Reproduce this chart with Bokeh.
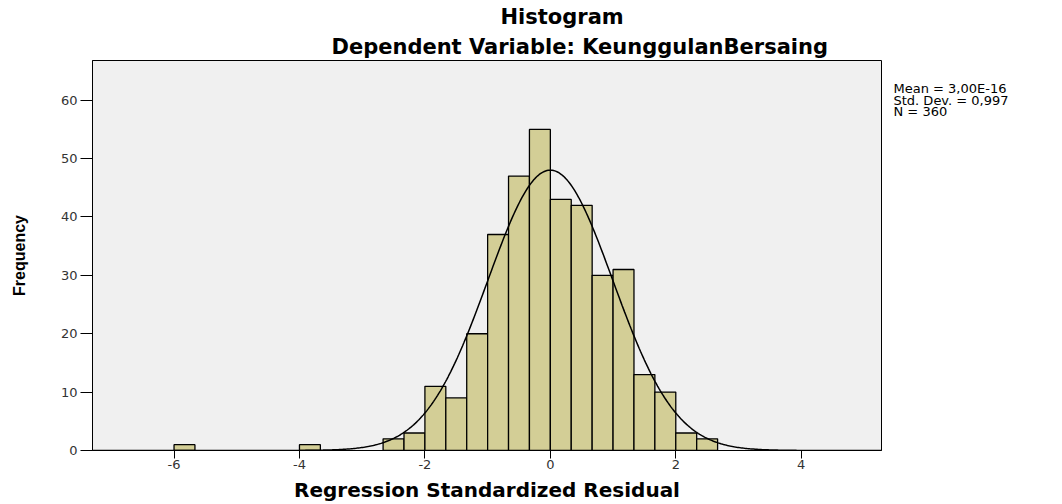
import numpy as np
from bokeh.plotting import figure
from bokeh.layouts import row
from bokeh.models import FixedTicker, Range1d, Title
from bokeh.core.properties import value
from bokeh.embed import file_html
from bokeh.resources import INLINE

# ---- data ----
bin_width = 1.0 / 3.0
bin_left = [-6.0, -4.0] + [k / 3.0 for k in range(-8, 8)]
counts = [1, 1, 2, 3, 11, 9, 20, 37, 47, 55, 43, 42, 30, 31, 13, 10, 3, 2]
mean_val = 3.00e-16
std_val = 0.997
n_val = 360
x_ticks = [-6, -4, -2, 0, 2, 4]
x_tick_labels = ["-6", "-4", "-2", "0", "2", "4"]
y_ticks = [0, 10, 20, 30, 40, 50, 60]
stats_lines = ["Mean = 3,00E-16", "Std. Dev. = 0,997", "N = 360"]

XMIN, XMAX = -7.30, 5.28
YMAX = 66.8
W_MAIN, W_SIDE, H = 890, 172, 504
B_TOP, B_BOTTOM = 60, 53

p = figure(width=W_MAIN, height=H, output_backend="svg", toolbar_location=None,
           x_range=Range1d(XMIN, XMAX), y_range=Range1d(0, YMAX),
           min_border_left=92, min_border_right=9, min_border_top=B_TOP, min_border_bottom=B_BOTTOM)

p.background_fill_color = "#f0f0f0"
p.border_fill_color = "white"
p.outline_line_color = "black"
p.outline_line_width = 1
p.grid.visible = False

left = np.array(bin_left)
p.quad(left=left, right=left + bin_width, bottom=0, top=counts,
       fill_color="#d3ce96", line_color="black", line_width=1.3)

xs = np.linspace(XMIN, XMAX, 600)
ys = n_val * bin_width / (std_val * np.sqrt(2 * np.pi)) * np.exp(-((xs - mean_val) ** 2) / (2 * std_val ** 2))
p.line(xs, ys, line_color="black", line_width=1.5)

# axes
p.xaxis.ticker = FixedTicker(ticks=x_ticks)
p.xaxis.major_label_overrides = {t: s for t, s in zip(x_ticks, x_tick_labels)}
p.yaxis.ticker = FixedTicker(ticks=y_ticks)
for ax in (p.xaxis[0], p.yaxis[0]):
    ax.minor_tick_line_color = None
    ax.major_tick_in = 0
    ax.axis_line_color = "black"
    ax.major_tick_line_color = "black"
    ax.major_label_text_font = "DejaVu Sans"
    ax.major_label_text_font_size = "13px"
    ax.major_label_text_color = "#333333"
    ax.axis_label_text_font_style = "bold"
    ax.axis_label_text_color = "black"

p.xaxis.major_tick_out = 8
p.xaxis.major_label_standoff = 1
p.xaxis.axis_label = "Regression Standardized Residual"
p.xaxis.axis_label_text_font = "DejaVu Sans"
p.xaxis.axis_label_text_font_size = "20px"
p.xaxis.axis_label_standoff = 6

p.yaxis.major_tick_out = 12
p.yaxis.major_label_standoff = 3
p.yaxis.axis_label = "Frequency"
p.yaxis.axis_label_text_font = "Liberation Sans"
p.yaxis.axis_label_text_font_size = "16px"
p.yaxis.axis_label_standoff = 30

# titles (first added is closest to the plot)
p.add_layout(Title(text="Dependent Variable: KeunggulanBersaing", align="left", offset=239,
                   text_font="DejaVu Sans", text_font_style="bold", text_font_size="21px",
                   text_color="black", standoff=4), "above")
p.add_layout(Title(text="Histogram", align="left", offset=408,
                   text_font="DejaVu Sans", text_font_style="bold", text_font_size="21px",
                   text_color="black", standoff=4), "above")

# side panel with the summary statistics (its frame is aligned with the main frame;
# its y range is set so that y = H - screen_y)
s = figure(width=W_SIDE, height=H, output_backend="svg", toolbar_location=None,
           x_range=Range1d(0, W_SIDE), y_range=Range1d(B_BOTTOM, H - B_TOP),
           x_axis_type=None, y_axis_type=None, min_border=0)
s.outline_line_color = None
s.background_fill_color = "white"
s.border_fill_color = "white"
stat_y = [H - 88, H - 100, H - 111.5]
s.text(x=[3, 3, 3], y=stat_y, text=stats_lines, text_align="left", text_baseline="middle",
       text_font=value("DejaVu Sans"), text_font_size="13px", text_color="black")

layout = row(p, s, spacing=0)
open("out.html", "w").write(file_html(layout, INLINE))
